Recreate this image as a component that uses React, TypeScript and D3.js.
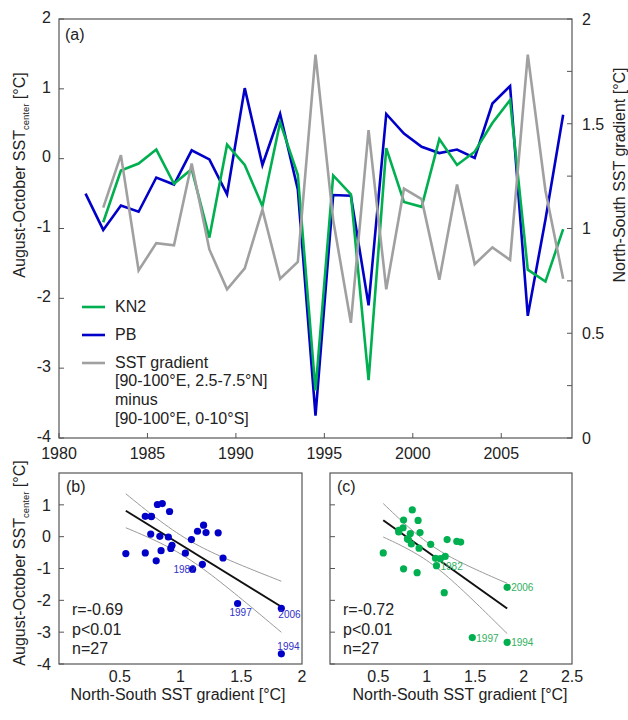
import React from "react";
import * as d3 from "d3";

// Year of each record (points sit at mid-year)
const years = [
  1981, 1982, 1983, 1984, 1985, 1986, 1987, 1988, 1989, 1990, 1991, 1992, 1993, 1994,
  1995, 1996, 1997, 1998, 1999, 2000, 2001, 2002, 2003, 2004, 2005, 2006, 2007, 2008,
];
const pb = [
  -0.5, -1.02, -0.67, -0.76, -0.27, -0.37, 0.12, -0.01, -0.51, 1.01, -0.09, 0.64, -0.44, -3.68,
  -0.52, -0.53, -2.1, 0.64, 0.36, 0.17, 0.08, 0.13, 0.01, 0.79, 1.04, -2.25, -0.87, 0.63,
];
const kn2 = [
  null, -0.91, -0.17, -0.07, 0.13, -0.36, -0.15, -1.13, 0.2, -0.09, -0.68, 0.52, -0.23, -3.32,
  -0.24, -0.51, -3.17, 0.15, -0.62, -0.69, 0.28, -0.09, 0.1, 0.51, 0.84, -1.59, -1.76, -1.01,
];
const gradient = [
  null, 1.1, 1.35, 0.8, 0.93, 0.92, 1.31, 0.9, 0.71, 0.81, 1.09, 0.76, 0.84, 1.83,
  1.04, 0.55, 1.47, 0.71, 1.19, 1.14, 0.755, 1.21, 0.83, 0.91, 0.85, 1.83, 1.18, 0.76,
];
const labelledYears = [1982, 1994, 1997, 2006];

const yearTicks = [1980, 1985, 1990, 1995, 2000, 2005];
const leftTicks = [2, 1, 0, -1, -2, -3, -4];
const rightTicks = [0, 0.25, 0.5, 0.75, 1, 1.25, 1.5, 1.75, 2];
const rightLabels = [0, 0.5, 1, 1.5, 2];
const scatterYTicks = [1, 0, -1, -2, -3, -4];
const bXTicks = [0.5, 1, 1.5, 2];
const cXTicks = [0.5, 1, 1.5, 2, 2.5];

const legendLabels = ["KN2", "PB", "SST gradient"];
const legendNote = ["[90-100°E, 2.5-7.5°N]", "minus", "[90-100°E, 0-10°S]"];

const GREEN = "#00b050";
const BLUE = "#0000c8";
const GREY = "#a0a0a0";
const AXIS = "#555";
const FONT = "Liberation Sans, Arial, sans-serif";
const FS = 16;

const fmt = (v: number) => (v < 0 ? "-" + Math.abs(v) : String(v));

function YTitle({ x, y }: { x: number; y: number }) {
  return (
    <text transform={`translate(${x},${y}) rotate(-90)`} textAnchor="middle" fontSize={FS} fill="#222">
      August-October SST
      <tspan fontSize={9.5} dy={4}>center</tspan>
      <tspan dy={-4}> [°C]</tspan>
    </text>
  );
}

function TopPanel() {
  const x = d3.scaleLinear().domain([1980, 2009]).range([59, 572]);
  const yL = d3.scaleLinear().domain([-4, 2]).range([438, 19]);
  const yR = d3.scaleLinear().domain([0, 2]).range([438, 19]);

  const mk = (vals: (number | null)[], y: d3.ScaleLinear<number, number>) => {
    const pts = years
      .map((yr, i) => [yr + 0.5, vals[i]] as [number, number | null])
      .filter((d) => d[1] != null) as [number, number][];
    return d3
      .line<[number, number]>()
      .x((d) => x(d[0]))
      .y((d) => y(d[1]))(pts) as string;
  };

  const legendColors = [GREEN, BLUE, GREY];

  return (
    <g>
      <path d={mk(pb, yL)} fill="none" stroke={BLUE} strokeWidth={2.6} />
      <path d={mk(kn2, yL)} fill="none" stroke={GREEN} strokeWidth={2.6} />
      <path d={mk(gradient, yR)} fill="none" stroke={GREY} strokeWidth={2.6} />

      <rect x={59} y={19} width={513} height={419} fill="none" stroke={AXIS} strokeWidth={1.2} />
      {leftTicks.map((t) => (
        <g key={"l" + t}>
          <line x1={59} x2={64} y1={yL(t)} y2={yL(t)} stroke={AXIS} />
          <text x={51} y={yL(t) - 2} dy="0.36em" textAnchor="end" fontSize={FS} fill="#222">
            {fmt(t)}
          </text>
        </g>
      ))}
      {rightTicks.map((t) => (
        <line key={"r" + t} x1={567} x2={572} y1={yR(t)} y2={yR(t)} stroke={AXIS} />
      ))}
      {rightLabels.map((t) => (
        <text key={"rl" + t} x={582} y={yR(t)} dy="0.36em" fontSize={FS} fill="#222">
          {t}
        </text>
      ))}
      {yearTicks.map((t) => (
        <g key={"x" + t}>
          <line x1={x(t)} x2={x(t)} y1={438} y2={433} stroke={AXIS} />
          <text x={x(t)} y={459} textAnchor="middle" fontSize={FS} fill="#222">
            {t}
          </text>
        </g>
      ))}
      <text x={65} y={40} fontSize={FS} fill="#222">(a)</text>

      {legendLabels.map((l, i) => (
        <g key={l}>
          <line x1={82} x2={105} y1={307 + i * 28} y2={307 + i * 28} stroke={legendColors[i]} strokeWidth={2.6} />
          <text x={115} y={312 + i * 28} fontSize={FS} fill="#222">{l}</text>
        </g>
      ))}
      {legendNote.map((l, i) => (
        <text key={l} x={115} y={386 + i * 19} fontSize={FS} fill="#222">{l}</text>
      ))}

      <YTitle x={25} y={175} />
      <text transform="translate(625,175) rotate(-90)" textAnchor="middle" fontSize={FS} fill="#222">
        North-South SST gradient [°C]
      </text>
    </g>
  );
}

type ScatterProps = {
  left: number;
  right: number;
  xMax: number;
  xTicks: number[];
  values: (number | null)[];
  color: string;
  labelColor: string;
  tag: string;
  stats: string[];
  showYLabels: boolean;
  labelPos: Record<number, [number, number, string]>;
  titleX: number;
};

function Scatter(p: ScatterProps) {
  const top = 473;
  const bottom = 664;
  const x = d3.scaleLinear().domain([0, p.xMax]).range([p.left, p.right]);
  const y = d3.scaleLinear().domain([-4, 2]).range([bottom, top]);

  const pairs = years
    .map((yr, i) => ({ yr, g: gradient[i], v: p.values[i] }))
    .filter((d) => d.g != null && d.v != null) as { yr: number; g: number; v: number }[];

  // least squares fit with 95% confidence band of the mean
  const n = pairs.length;
  const xbar = d3.mean(pairs, (d) => d.g) as number;
  const ybar = d3.mean(pairs, (d) => d.v) as number;
  const sxx = d3.sum(pairs, (d) => (d.g - xbar) ** 2);
  const sxy = d3.sum(pairs, (d) => (d.g - xbar) * (d.v - ybar));
  const b = sxy / sxx;
  const a = ybar - b * xbar;
  const sse = d3.sum(pairs, (d) => (d.v - (a + b * d.g)) ** 2);
  const s = Math.sqrt(sse / (n - 2));
  const tval = 2.06;
  const [gmin, gmax] = d3.extent(pairs, (d) => d.g) as [number, number];
  const xs = d3.range(0, 41).map((k) => gmin + ((gmax - gmin) * k) / 40);
  const band = (sign: number) =>
    d3
      .line<number>()
      .x((g) => x(g))
      .y((g) => y(a + b * g + sign * tval * s * Math.sqrt(1 / n + (g - xbar) ** 2 / sxx)))(xs) as string;

  return (
    <g>
      <rect x={p.left} y={top} width={p.right - p.left} height={bottom - top} fill="none" stroke={AXIS} strokeWidth={1.2} />
      {scatterYTicks.map((t) => (
        <g key={"y" + t}>
          <line x1={p.left} x2={p.left + 5} y1={y(t)} y2={y(t)} stroke={AXIS} />
          {p.showYLabels && (
            <text x={51} y={y(t)} dy="0.36em" textAnchor="end" fontSize={FS} fill="#222">
              {fmt(t)}
            </text>
          )}
        </g>
      ))}
      {p.xTicks.map((t) => (
        <text key={"x" + t} x={x(t)} y={682} textAnchor="middle" fontSize={FS} fill="#222">
          {t}
        </text>
      ))}
      <text x={p.titleX} y={700} textAnchor="middle" fontSize={FS} fill="#222">
        North-South SST gradient [°C]
      </text>
      <text x={p.left + 7} y={492} fontSize={FS} fill="#222">{p.tag}</text>

      <path d={band(1)} fill="none" stroke="#999" strokeWidth={1} />
      <path d={band(-1)} fill="none" stroke="#999" strokeWidth={1} />
      <line x1={x(gmin)} x2={x(gmax)} y1={y(a + b * gmin)} y2={y(a + b * gmax)} stroke="#111" strokeWidth={2} />

      {pairs.map((d) => (
        <circle key={d.yr} cx={x(d.g)} cy={y(d.v)} r={3.6} fill={p.color} />
      ))}
      {pairs
        .filter((d) => labelledYears.includes(d.yr))
        .map((d) => {
          const [dx, dy, anchor] = p.labelPos[d.yr];
          return (
            <text key={"t" + d.yr} x={x(d.g) + dx} y={y(d.v) + dy} textAnchor={anchor} fontSize={10} fill={p.labelColor}>
              {d.yr}
            </text>
          );
        })}

      {p.stats.map((l, i) => (
        <text key={l} x={p.left + 13} y={615 + i * 19.5} fontSize={FS} fill="#222">
          {l}
        </text>
      ))}
    </g>
  );
}

export default function App() {
  return (
    <svg
      width={628}
      height={720}
      style={{ position: "absolute", left: 0, top: 0, background: "#fff", fontFamily: FONT }}
    >
      <rect width={628} height={720} fill="#fff" />
      <TopPanel />
      <YTitle x={25} y={563} />
      <Scatter
        left={59}
        right={302}
        xMax={2}
        xTicks={bXTicks}
        values={pb}
        color={BLUE}
        labelColor="#3030c8"
        tag="(b)"
        stats={["r=-0.69", "p<0.01", "n=27"]}
        showYLabels={true}
        titleX={178}
        labelPos={{ 1982: [3, 4, "end"], 1997: [3, 12, "middle"], 2006: [-3, 10, "start"], 1994: [-4, -4, "start"] }}
      />
      <Scatter
        left={330}
        right={572}
        xMax={2.5}
        xTicks={cXTicks}
        values={kn2}
        color={GREEN}
        labelColor="#30b060"
        tag="(c)"
        stats={["r=-0.72", "p<0.01", "n=27"]}
        showYLabels={false}
        titleX={460}
        labelPos={{ 1982: [4, 4, "start"], 1997: [4, 4, "start"], 2006: [4, 4, "start"], 1994: [4, 4, "start"] }}
      />
    </svg>
  );
}
